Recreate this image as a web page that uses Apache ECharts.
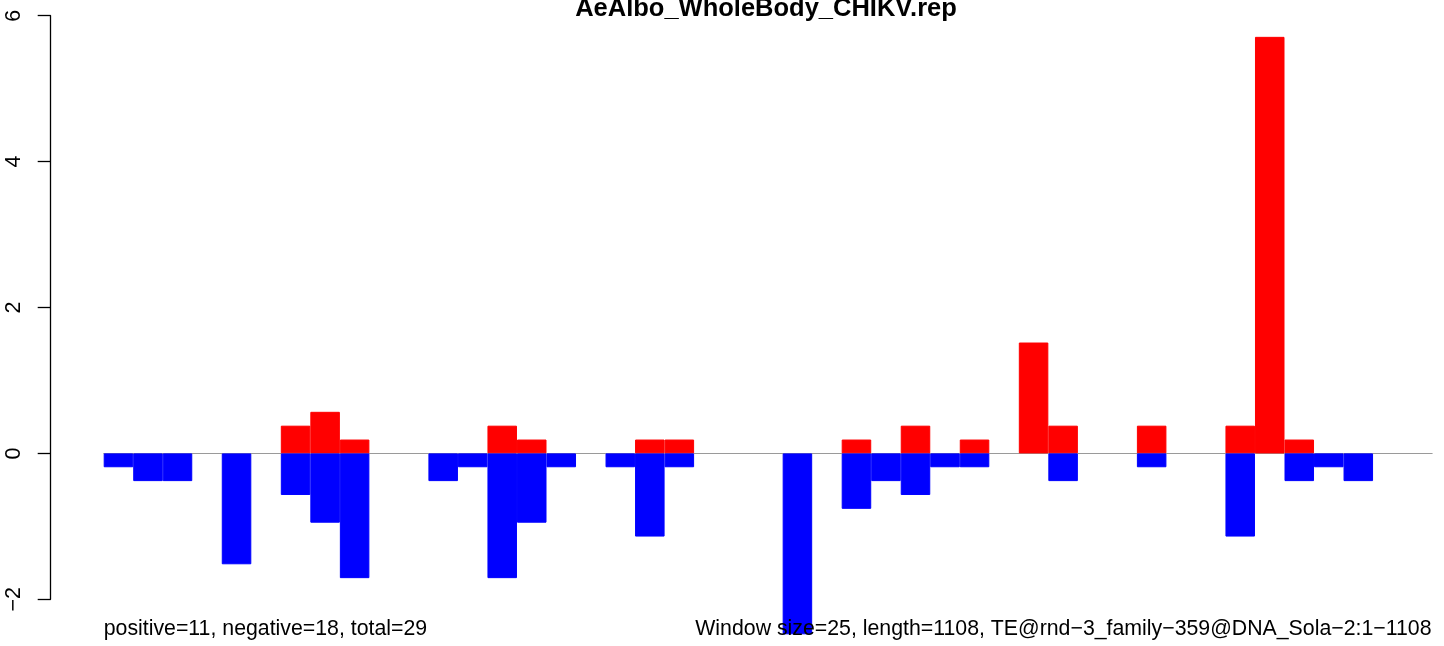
<!DOCTYPE html>
<html>
<head>
<meta charset="utf-8">
<script src="https://cdn.jsdelivr.net/npm/echarts@6/dist/echarts.min.js"></script>
<style>
html,body{margin:0;padding:0;background:#fff;}
#c{width:1444px;height:646px;}
</style>
</head>
<body>
<div id="c"></div>
<script>
// window index (1..45), window size 25
const windows = Array.from({length:45}, (_, i) => String(i + 1));
// positive (red) values per window
const positiveValues = [0,0,0,0,0,0,0.38,0.57,0.19,0,0,0,0,0.38,0.19,0,0,0,0.19,0.19,0,0,0,0,0,0.19,0,0.38,0,0.19,0,1.52,0.38,0,0,0.38,0,0,0.38,5.71,0.19,0,0,0,0];
// negative (blue) values per window
const negativeValues = [-0.19,-0.38,-0.38,0,-1.52,0,-0.57,-0.95,-1.71,0,0,-0.38,-0.19,-1.71,-0.95,-0.19,0,-0.19,-1.14,-0.19,0,0,0,-2.48,0,-0.76,-0.38,-0.57,-0.19,-0.19,0,0,-0.38,0,0,-0.19,0,0,-1.14,0,-0.38,-0.19,-0.38,0,0];
const yTicks = [-2, 0, 2, 4, 6];
const titleText = 'AeAlbo_WholeBody_CHIKV.rep';
const leftNote = 'positive=11, negative=18, total=29';
const rightNote = 'Window size=25, length=1108, TE@rnd\u22123_family\u2212359@DNA_Sola\u22122:1\u22121108';

const FONT = '"Liberation Sans", Arial, Helvetica, sans-serif';
const noZero = arr => arr.map(v => (v === 0 ? '-' : v));
const chart = echarts.init(document.getElementById('c'), null, {renderer: 'canvas'});
chart.setOption({
  animation: false,
  backgroundColor: '#ffffff',
  title: [
    {text: titleText, left: 766, top: -4, textAlign: 'center', padding: 0,
     textStyle: {fontFamily: FONT, fontWeight: 'bold', fontSize: 25.5, color: '#000'}},
    {text: leftNote, left: 103.7, top: 619, padding: 0,
     textStyle: {fontFamily: FONT, fontWeight: 'normal', fontSize: 21.3, color: '#000'}},
    {text: rightNote, right: 12.5, top: 619, padding: 0,
     textStyle: {fontFamily: FONT, fontWeight: 'normal', fontSize: 21.3, color: '#000'}}
  ],
  grid: {left: 103.7, right: 11.9, top: 15.7, bottom: 46.7, containLabel: false},
  xAxis: {
    type: 'category', data: windows, boundaryGap: true,
    axisLine: {show: true, onZero: true, lineStyle: {color: '#9a9a9a', width: 1.2}},
    axisTick: {show: false}, axisLabel: {show: false}, splitLine: {show: false}
  },
  yAxis: {
    type: 'value', min: yTicks[0], max: yTicks[yTicks.length - 1], interval: 2,
    offset: 53,
    axisLine: {show: true, lineStyle: {color: '#000', width: 1.3}},
    axisTick: {show: true, length: 13, inside: false, lineStyle: {color: '#000', width: 1.3}},
    splitLine: {show: false},
    axisLabel: {
      show: true, rotate: 90, margin: 26, fontFamily: FONT, fontSize: 21.5, color: '#000',
      formatter: v => String(v).replace('-', '\u2212')
    }
  },
  series: [
    {type: 'bar', name: 'positive', data: noZero(positiveValues), barWidth: '100%', barGap: '-100%',
     barCategoryGap: '0%', clip: false,
     itemStyle: {color: '#FF0000', borderColor: '#FF0000', borderWidth: 1}, z: 3},
    {type: 'bar', name: 'negative', data: noZero(negativeValues), barWidth: '100%', barGap: '-100%',
     barCategoryGap: '0%', clip: false,
     itemStyle: {color: '#0000FF', borderColor: '#0000FF', borderWidth: 1}, z: 3}
  ]
});
</script>
</body>
</html>
